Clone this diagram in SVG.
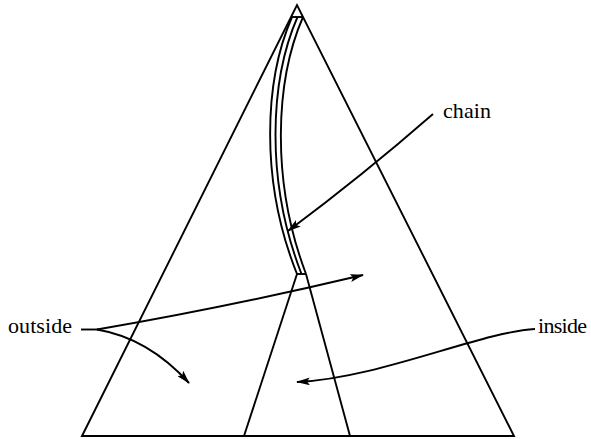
<svg xmlns="http://www.w3.org/2000/svg" width="591" height="439" viewBox="0 0 591 439">
<style>
.ln{fill:none;stroke:#000;stroke-width:1.9;stroke-linejoin:miter}
.arr{fill:none;stroke:#000;stroke-width:1.9;marker-end:url(#ah)}
.lbl{font-family:"Liberation Serif","Times New Roman",serif;font-size:22px;fill:#000}
</style>
<defs>
<marker id="ah" viewBox="0 0 14 8" refX="13" refY="4" markerWidth="14" markerHeight="8" markerUnits="userSpaceOnUse" orient="auto">
<path d="M0,0 L14,4 L0,8 L3,4 Z" fill="#000"/>
</marker>
</defs>
<rect width="591" height="439" fill="#fff"/>
<g id="triangle">
<path class="ln" d="M82,436 L297,5 L514,436 Z"/>
<path class="ln" d="M291.5,17 L303,17"/>
</g>
<g id="chain-shape">
<path class="ln" d="M292,17 C264.5,80 259.5,180 297,274"/>
<path class="ln" d="M297.5,17 C270,80 265,180 301.5,274"/>
<path class="ln" d="M303,17 C275.5,80 270.5,180 306,274"/>
<path class="ln" d="M297,274 L306,274"/>
</g>
<g id="inside-region">
<path class="ln" d="M297,274 L244,436"/>
<path class="ln" d="M306,274 L350,436"/>
</g>
<g id="label-chain"><text class="lbl" x="443" y="118" textLength="48">chain</text></g>
<g id="label-outside"><text class="lbl" x="8" y="333" textLength="64">outside</text></g>
<g id="label-inside"><text class="lbl" x="538" y="333" textLength="49">inside</text></g>
<g id="connectors">
<path class="arr" d="M433,114 Q362,176 288,231"/>
<path class="ln" d="M81,329.5 L98,329.5"/>
<path class="arr" d="M97,329.5 Q228,307 363,275"/>
<path class="arr" d="M97,329.5 Q148,338 189,383"/>
<path class="arr" d="M535,329 C480,332 380,378 297,382"/>
</g>
</svg>
